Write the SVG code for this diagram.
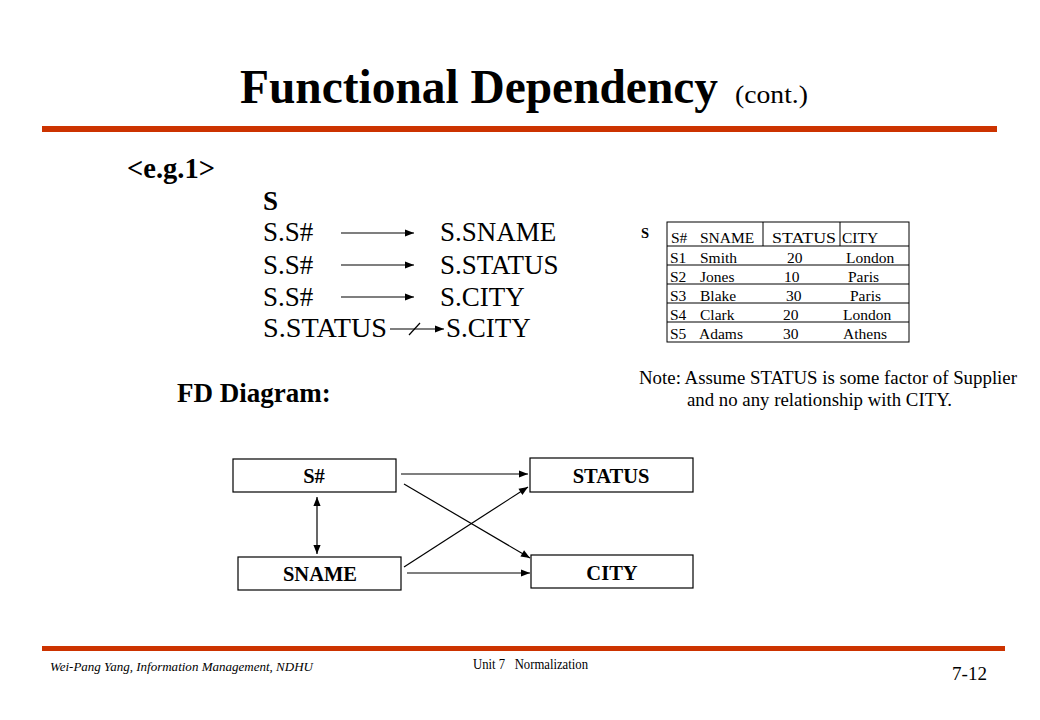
<svg xmlns="http://www.w3.org/2000/svg" width="1040" height="720" viewBox="0 0 1040 720">
<defs>
<marker id="ah" viewBox="0 0 10 10" refX="10" refY="5" markerWidth="10" markerHeight="9" markerUnits="userSpaceOnUse" orient="auto-start-reverse">
<path d="M0,1 L10,5 L0,9 z" fill="#000"/>
</marker>
<style>
text{font-family:"Liberation Serif","Times New Roman",serif;fill:#000}
.b{font-weight:bold}
.fd{font-size:27px}
.tb{font-size:15.5px}
.box{fill:#fff;stroke:#000;stroke-width:1.2}
.ln{stroke:#000;stroke-width:1.2;fill:none}
.bar{fill:#CC3300}
.nl{font-size:20.5px;font-weight:bold}
</style>
</defs>
<rect width="1040" height="720" fill="#fff"/>
<g id="title">
<text x="240" y="103" class="b" font-size="48" textLength="478" lengthAdjust="spacingAndGlyphs">Functional Dependency</text>
<text x="735" y="103" font-size="26" textLength="73" lengthAdjust="spacingAndGlyphs">(cont.)</text>
<rect class="bar" x="42" y="126" width="955" height="6"/>
</g>
<g id="fds">
<text x="127" y="178" class="b" font-size="28.5">&lt;e.g.1&gt;</text>
<text x="263" y="210" class="b" font-size="27">S</text>
<text x="263" y="241" class="fd">S.S#</text>
<text x="440" y="241" class="fd">S.SNAME</text>
<text x="263" y="274" class="fd">S.S#</text>
<text x="440" y="274" class="fd">S.STATUS</text>
<text x="263" y="306" class="fd">S.S#</text>
<text x="440" y="306" class="fd">S.CITY</text>
<text x="263" y="337" class="fd" textLength="124" lengthAdjust="spacingAndGlyphs">S.STATUS</text>
<text x="446" y="337" class="fd">S.CITY</text>
<line class="ln" x1="341" y1="233" x2="414" y2="233" marker-end="url(#ah)"/>
<line class="ln" x1="341" y1="265" x2="414" y2="265" marker-end="url(#ah)"/>
<line class="ln" x1="341" y1="297" x2="414" y2="297" marker-end="url(#ah)"/>
<line class="ln" x1="390" y1="329" x2="444" y2="329" marker-end="url(#ah)"/>
<line class="ln" x1="409" y1="335" x2="420" y2="323"/>
<text x="177" y="402" class="b" font-size="27">FD Diagram:</text>
</g>
<g id="table">
<text x="641" y="238" class="b" font-size="14.5">S</text>
<rect x="667" y="222" width="242" height="120" fill="none" stroke="#000" stroke-width="1"/>
<g stroke="#000" stroke-width="1">
<line x1="667" y1="246" x2="909" y2="246"/>
<line x1="667" y1="265" x2="909" y2="265"/>
<line x1="667" y1="284" x2="909" y2="284"/>
<line x1="667" y1="303" x2="909" y2="303"/>
<line x1="667" y1="322" x2="909" y2="322"/>
<line x1="763" y1="222" x2="763" y2="246"/>
<line x1="840" y1="222" x2="840" y2="246"/>
</g>
<g>
<text x="671" y="243" class="tb">S#</text><text x="700" y="243" class="tb">SNAME</text><text x="772" y="243" class="tb" textLength="64" lengthAdjust="spacingAndGlyphs">STATUS</text><text x="842" y="243" class="tb">CITY</text>
<text x="670" y="263" class="tb">S1</text><text x="700" y="263" class="tb">Smith</text><text x="787" y="263" class="tb">20</text><text x="846" y="263" class="tb">London</text>
<text x="670" y="282" class="tb">S2</text><text x="700" y="282" class="tb">Jones</text><text x="784" y="282" class="tb">10</text><text x="848" y="282" class="tb">Paris</text>
<text x="670" y="301" class="tb">S3</text><text x="700" y="301" class="tb">Blake</text><text x="786" y="301" class="tb">30</text><text x="850" y="301" class="tb">Paris</text>
<text x="670" y="320" class="tb">S4</text><text x="700" y="320" class="tb">Clark</text><text x="783" y="320" class="tb">20</text><text x="843" y="320" class="tb">London</text>
<text x="670" y="339" class="tb">S5</text><text x="699" y="339" class="tb">Adams</text><text x="783" y="339" class="tb">30</text><text x="843" y="339" class="tb">Athens</text>
</g>
</g>
<g id="note">
<text x="639" y="384" font-size="18.5" textLength="378" lengthAdjust="spacingAndGlyphs">Note: Assume STATUS is some factor of Supplier</text>
<text x="687" y="406" font-size="18.5" textLength="265" lengthAdjust="spacingAndGlyphs">and no any relationship with CITY.</text>
</g>
<g id="n-sno">
<rect class="box" x="233" y="459" width="163" height="33"/>
<text x="314" y="483" class="nl" text-anchor="middle">S#</text>
</g>
<g id="n-status">
<rect class="box" x="530" y="458" width="163" height="34"/>
<text x="611" y="483" class="nl" text-anchor="middle">STATUS</text>
</g>
<g id="n-sname">
<rect class="box" x="238" y="557" width="163" height="33"/>
<text x="320" y="581" class="nl" text-anchor="middle">SNAME</text>
</g>
<g id="n-city">
<rect class="box" x="531" y="555" width="162" height="33"/>
<text x="612" y="580" class="nl" text-anchor="middle">CITY</text>
</g>
<g id="connectors">
<line class="ln" x1="401" y1="474" x2="528" y2="474" marker-end="url(#ah)"/>
<line class="ln" x1="404" y1="484" x2="530" y2="558" marker-end="url(#ah)"/>
<line class="ln" x1="404" y1="567" x2="528" y2="487" marker-end="url(#ah)"/>
<line class="ln" x1="407" y1="573" x2="530" y2="573" marker-end="url(#ah)"/>
<line class="ln" x1="317" y1="497" x2="317" y2="554" marker-start="url(#ah)" marker-end="url(#ah)"/>
</g>
<g id="footer">
<rect class="bar" x="42" y="646" width="963" height="5"/>
<text x="50" y="671" font-size="12.5" font-style="italic" textLength="263" lengthAdjust="spacingAndGlyphs">Wei-Pang Yang, Information Management, NDHU</text>
<text x="473" y="669" font-size="15" xml:space="preserve" textLength="115" lengthAdjust="spacingAndGlyphs">Unit 7   Normalization</text>
<text x="952" y="680" font-size="19" textLength="35" lengthAdjust="spacingAndGlyphs">7-12</text>
</g>
</svg>
